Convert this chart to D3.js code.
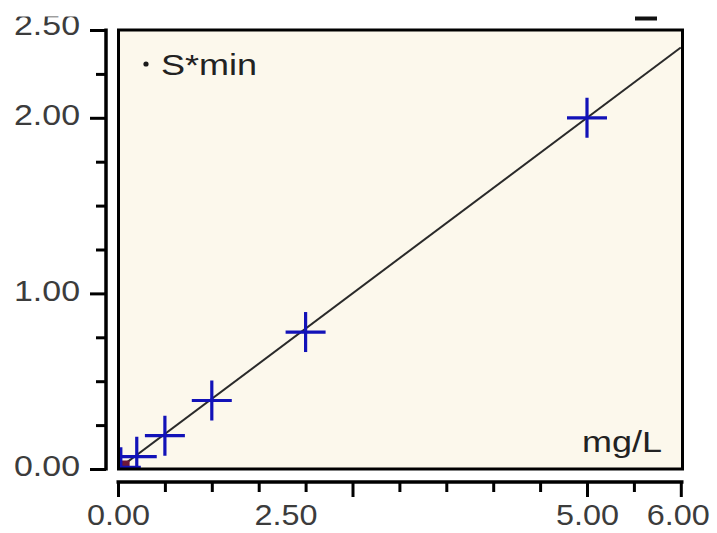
<!DOCTYPE html>
<html>
<head>
<meta charset="utf-8">
<script src="https://cdn.jsdelivr.net/npm/d3@7"></script>
<style>
  html, body { margin: 0; padding: 0; background: #ffffff; }
  svg { display: block; }
</style>
</head>
<body>
<svg id="chart" width="717" height="533"></svg>
<script>
// ---- data ----
const concentrations = [0.03, 0.2, 0.5, 1, 2, 5];          // mg/L
const responses      = [0.01, 0.07, 0.19, 0.39, 0.78, 2.0];
const originPoint    = [[0.06, 0.02]];
const fitLineX       = [0, 6];
const fitLineY       = [0, 2.4];
const xMajorTicks    = [0, 2.5, 5, 6];
const xMinorTicks    = [0.5, 1, 1.5, 2, 3, 3.5, 4, 4.5, 5.5];
const yMajorTicks    = [0, 1, 2, 2.5];
const yMinorTicks    = [0.25, 0.5, 0.75, 1.25, 1.5, 1.75, 2.25];
const legendLabel    = "S*min";
const unitLabel      = "mg/L";

// ---- layout ----
const svg = d3.select("#chart");
const plot = { left: 118.5, right: 682.5, top: 30, bottom: 469 };
const x = d3.scaleLinear().domain([0, 6]).range([118, 680.8]);
const y = d3.scaleLinear().domain([0, 2.5]).range([469, 30]);
const fontFam = "'Liberation Sans', Arial, sans-serif";
const labelColor = "#3c3c3c";

// plot background
svg.append("rect")
  .attr("x", plot.left).attr("y", plot.top)
  .attr("width", plot.right - plot.left).attr("height", plot.bottom - plot.top)
  .attr("fill", "#fcf8ec");

svg.append("clipPath").attr("id", "clip")
  .append("rect")
  .attr("x", plot.left).attr("y", plot.top)
  .attr("width", plot.right - plot.left).attr("height", plot.bottom - plot.top);

const inner = svg.append("g").attr("clip-path", "url(#clip)");

// fit line
const lineData = fitLineX.map((v, i) => [v, fitLineY[i]]);
inner.append("path")
  .datum(lineData)
  .attr("d", d3.line().x(d => x(d[0])).y(d => y(d[1])))
  .attr("fill", "none")
  .attr("stroke", "#2a2a2a")
  .attr("stroke-width", 2);

// origin marker
inner.selectAll("rect.origin").data(originPoint).join("rect")
  .attr("class", "origin")
  .attr("x", d => x(d[0]) - 6).attr("y", d => y(d[1]) - 5)
  .attr("width", 12).attr("height", 9)
  .attr("fill", "#6e1738");

// cross markers
const pts = concentrations.map((v, i) => [v, responses[i]]);
const half = 20;
const cross = inner.selectAll("g.pt").data(pts).join("g").attr("class", "pt");
cross.append("line")
  .attr("x1", d => x(d[0]) - half).attr("x2", d => x(d[0]) + half)
  .attr("y1", d => y(d[1])).attr("y2", d => y(d[1]));
cross.append("line")
  .attr("x1", d => x(d[0])).attr("x2", d => x(d[0]))
  .attr("y1", d => y(d[1]) - half).attr("y2", d => y(d[1]) + half);
cross.selectAll("line").attr("stroke", "#1212b8").attr("stroke-width", 3.2);

// plot frame
svg.append("rect")
  .attr("x", plot.left).attr("y", plot.top)
  .attr("width", plot.right - plot.left).attr("height", plot.bottom - plot.top)
  .attr("fill", "none").attr("stroke", "#000").attr("stroke-width", 3);

// ---- axes ----
const fmt = d3.format(".2f");
function styleAxis(g) {
  g.select(".domain").remove();
  g.selectAll(".tick line").attr("stroke", "#000").attr("stroke-width", 3);
  g.selectAll(".tick text")
    .attr("fill", labelColor)
    .style("font-family", fontFam)
    .style("font-size", "29px");
}

// y axis
const yAxisX = 106;
const yAxisG = svg.append("g").attr("transform", `translate(${yAxisX},0)`);
yAxisG.append("line")
  .attr("x1", 0).attr("x2", 0).attr("y1", y(2.5) - 1.5).attr("y2", y(0) + 1.5)
  .attr("stroke", "#000").attr("stroke-width", 3.5);
yAxisG.append("g")
  .call(d3.axisLeft(y).tickValues(yMinorTicks).tickFormat("").tickSizeInner(10).tickSizeOuter(0))
  .call(styleAxis);
yAxisG.append("g")
  .call(d3.axisLeft(y).tickValues(yMajorTicks).tickFormat(fmt).tickSizeInner(16).tickSizeOuter(0).tickPadding(10))
  .call(styleAxis)
  .selectAll(".tick text")
  .attr("dy", d => d === 2.5 ? "0.16em" : "0.24em")
  .attr("textLength", 66).attr("lengthAdjust", "spacingAndGlyphs");

// x axis
const xAxisY = 482;
const xAxisG = svg.append("g").attr("transform", `translate(0,${xAxisY})`);
xAxisG.append("line")
  .attr("x1", x(0) - 1.5).attr("x2", plot.right + 1)
  .attr("y1", 0).attr("y2", 0)
  .attr("stroke", "#000").attr("stroke-width", 3.5);
xAxisG.append("g")
  .call(d3.axisBottom(x).tickValues(xMinorTicks).tickFormat("").tickSizeInner(10).tickSizeOuter(0))
  .call(styleAxis);
xAxisG.append("g")
  .call(d3.axisBottom(x).tickValues(xMajorTicks).tickFormat(fmt).tickSizeInner(15).tickSizeOuter(0).tickPadding(7))
  .call(styleAxis)
  .selectAll(".tick text")
  .attr("textLength", 63).attr("lengthAdjust", "spacingAndGlyphs")
  .attr("dx", d => d === 2.5 ? -67 : (d === 6 ? -3 : 0));

// ---- in-plot texts ----
svg.append("circle").attr("cx", 146).attr("cy", 64).attr("r", 2.6).attr("fill", "#1a1a1a");
svg.append("text")
  .attr("x", 161).attr("y", 75)
  .attr("textLength", 96).attr("lengthAdjust", "spacingAndGlyphs")
  .attr("fill", "#222")
  .style("font-family", fontFam).style("font-size", "29px")
  .text(legendLabel);
svg.append("text")
  .attr("x", 582).attr("y", 452)
  .attr("textLength", 80).attr("lengthAdjust", "spacingAndGlyphs")
  .attr("fill", "#222")
  .style("font-family", fontFam).style("font-size", "29px")
  .text(unitLabel);

// top crop band (the reference is cut off at the top) and small remnant mark
svg.append("rect").attr("x", 0).attr("y", 0).attr("width", 717).attr("height", 16.5).attr("fill", "#ffffff");
svg.append("rect").attr("x", 635).attr("y", 16.5).attr("width", 22).attr("height", 4).attr("fill", "#111");
</script>
</body>
</html>
